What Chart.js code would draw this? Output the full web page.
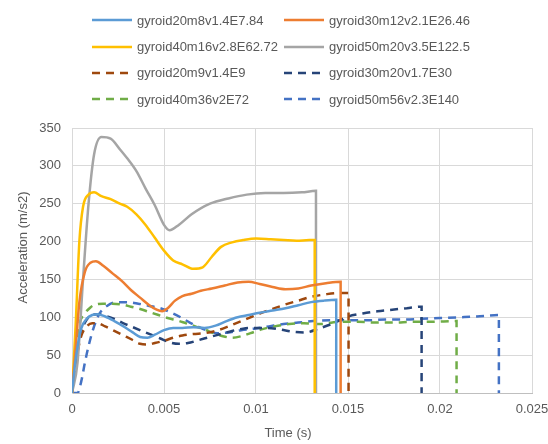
<!DOCTYPE html>
<html>
<head>
<meta charset="utf-8">
<script src="https://cdn.jsdelivr.net/npm/chart.js@4"></script>
<style>
  body { margin: 0; background: #fff; }
  #wrap { position: relative; width: 548px; height: 444px; }
  .leg { position: absolute; height: 20px; display: flex; align-items: center;
         font-family: "Liberation Sans", Arial, sans-serif; font-size: 13px; color: #595959; white-space: nowrap; }
  .leg span { margin-left: 5px; }
</style>
</head>
<body>
<div id="wrap">
  <canvas id="chart" width="548" height="444"></canvas>
</div>
<script>
// series data (time in s, acceleration in m/s2)
const names = [
  "gyroid20m8v1.4E7.84", "gyroid30m12v2.1E26.46",
  "gyroid40m16v2.8E62.72", "gyroid50m20v3.5E122.5",
  "gyroid20m9v1.4E9", "gyroid30m20v1.7E30",
  "gyroid40m36v2E72", "gyroid50m56v2.3E140"
];
const colors = ["#5B9BD5", "#ED7D31", "#FFC000", "#A5A5A5", "#9E480E", "#264478", "#70AD47", "#4472C4"];
const dashed = [false, false, false, false, true, true, true, true];

const t1 = [0, 0.0002, 0.0005, 0.0008, 0.0011, 0.0014, 0.0018, 0.0023, 0.0028, 0.0033, 0.0037, 0.0041, 0.0045, 0.005, 0.0055, 0.006, 0.0066, 0.0072, 0.0078, 0.0084, 0.009, 0.0096, 0.0102, 0.0109, 0.0116, 0.0123, 0.013, 0.0137, 0.01436, 0.01436];
const a1 = [0, 45, 85, 98, 103, 104, 101, 95, 88, 80, 74, 73, 77, 83, 86, 86, 87, 86, 89, 95, 100, 103, 106, 109, 112, 116, 120, 122, 123, 0];

const t2 = [0, 0.0002, 0.0004, 0.0007, 0.001, 0.0013, 0.0017, 0.0022, 0.0027, 0.0032, 0.0037, 0.0042, 0.0046, 0.0049, 0.0052, 0.0056, 0.006, 0.0065, 0.007, 0.0076, 0.0083, 0.009, 0.0096, 0.0102, 0.0109, 0.0116, 0.0123, 0.013, 0.0138, 0.0146, 0.0146];
const a2 = [0, 60, 120, 160, 172, 174, 168, 158, 148, 136, 126, 116, 110, 108, 112, 122, 128, 131, 135, 138, 142, 146, 147, 144, 140, 137, 138, 142, 145, 147, 0];

const t3 = [0, 0.0002, 0.0004, 0.0006, 0.0009, 0.0012, 0.0016, 0.0021, 0.0026, 0.003, 0.0035, 0.004, 0.0045, 0.005, 0.0055, 0.006, 0.0066, 0.0071, 0.0076, 0.0081, 0.0087, 0.0093, 0.01, 0.0108, 0.0115, 0.0122, 0.0129, 0.01319, 0.01319];
const a3 = [0, 90, 200, 246, 262, 265, 260, 256, 250, 246, 236, 222, 205, 188, 175, 170, 164, 166, 180, 193, 199, 202, 204, 203, 202, 201, 202, 202, 0];

const t4 = [0, 0.0003, 0.0006, 0.0009, 0.0012, 0.0016, 0.0021, 0.0026, 0.003, 0.0035, 0.004, 0.0045, 0.005, 0.0053, 0.0058, 0.0065, 0.0075, 0.0085, 0.0095, 0.0105, 0.0115, 0.0125, 0.01326, 0.01326];
const a4 = [0, 40, 150, 250, 315, 338, 336, 322, 310, 293, 270, 248, 222, 215, 222, 236, 250, 257, 262, 264, 264, 265, 267, 0];

const t5 = [0, 0.0002, 0.0005, 0.0008, 0.0011, 0.0014, 0.0018, 0.0023, 0.0028, 0.0033, 0.0037, 0.0041, 0.0045, 0.005, 0.0055, 0.006, 0.0066, 0.0072, 0.0078, 0.0084, 0.009, 0.0096, 0.0102, 0.0109, 0.0116, 0.0123, 0.013, 0.0137, 0.0144, 0.01503, 0.01503];
const a5 = [0, 40, 75, 88, 92, 92, 88, 82, 76, 70, 65, 64, 66, 69, 73, 76, 78, 79, 82, 87, 93, 99, 105, 111, 117, 122, 127, 130, 132, 132, 0];

const t6 = [0, 0.0002, 0.0005, 0.0008, 0.0011, 0.0014, 0.0018, 0.0023, 0.0028, 0.0033, 0.0038, 0.0043, 0.0048, 0.0053, 0.0058, 0.0063, 0.0069, 0.0075, 0.0081, 0.0087, 0.0093, 0.0099, 0.0106, 0.0113, 0.012, 0.0127, 0.0134, 0.0142, 0.015, 0.0158, 0.0166, 0.0174, 0.0182, 0.019, 0.019];
const a6 = [0, 40, 80, 97, 103, 104, 102, 98, 92, 87, 82, 77, 72, 67, 65, 66, 70, 74, 78, 82, 85, 86, 86, 84, 81, 80, 85, 92, 101, 105, 108, 110, 112, 114, 0];

const t7 = [0, 0.0002, 0.0004, 0.0007, 0.001, 0.0013, 0.0017, 0.0022, 0.0027, 0.0032, 0.0037, 0.0042, 0.0047, 0.0052, 0.0057, 0.0062, 0.0067, 0.0072, 0.0077, 0.0082, 0.0087, 0.0092, 0.0097, 0.0103, 0.011, 0.0118, 0.0126, 0.0135, 0.0145, 0.0155, 0.0165, 0.0175, 0.0185, 0.0195, 0.0209, 0.0209];
const a7 = [0, 50, 90, 105, 113, 117, 118, 118, 117, 114, 111, 107, 103, 99, 96, 92, 88, 84, 79, 75, 73, 75, 79, 84, 88, 91, 92, 91, 94, 94, 93, 93, 94, 94, 95, 0];

const t8 = [0, 0.0003, 0.0005, 0.0007, 0.0009, 0.0012, 0.0015, 0.0019, 0.0024, 0.003, 0.0036, 0.0042, 0.0048, 0.0054, 0.0059, 0.0064, 0.0069, 0.0074, 0.0079, 0.0085, 0.0092, 0.0099, 0.0107, 0.0115, 0.0123, 0.0131, 0.014, 0.015, 0.016, 0.017, 0.018, 0.019, 0.02, 0.021, 0.022, 0.0232, 0.0232];
const a8 = [0, 0, 15, 40, 62, 88, 105, 115, 120, 120, 118, 115, 112, 106, 100, 93, 87, 82, 79, 80, 83, 85, 88, 91, 93, 95, 96, 96, 96, 97, 97, 98, 99, 100, 101, 103, 0];

const times = [t1, t2, t3, t4, t5, t6, t7, t8];
const accels = [a1, a2, a3, a4, a5, a6, a7, a8];

const xTitle = "Time (s)";
const yTitle = "Acceleration (m/s2)";

const font = "'Liberation Sans', Arial, sans-serif";
const textColor = "#595959";

const datasets = names.map((name, i) => ({
  label: name,
  data: times[i].map((t, j) => ({ x: t, y: accels[i][j] })),
  borderColor: colors[i],
  backgroundColor: colors[i],
  borderWidth: 2.5,
  borderDash: dashed[i] ? [8, 6] : [],
  pointRadius: 0,
  showLine: true,
  cubicInterpolationMode: "monotone",
  fill: false
}));

// legend, 2 columns
const wrap = document.getElementById("wrap");
const rowY = [20, 46.5, 72.5, 99];
const colX = [92, 284];
names.forEach((name, i) => {
  const div = document.createElement("div");
  div.className = "leg";
  div.style.left = colX[i % 2] + "px";
  div.style.top = (rowY[Math.floor(i / 2)] - 10) + "px";
  const dash = dashed[i] ? 'stroke-dasharray="8,6"' : "";
  div.innerHTML = `<svg width="40" height="6"><line x1="0" y1="3" x2="40" y2="3" stroke="${colors[i]}" stroke-width="2.5" ${dash}/></svg><span>${name}</span>`;
  wrap.appendChild(div);
});

// axis titles sit a little off-centre in the original, so draw them here
const axisTitles = {
  id: "axisTitles",
  afterDraw(chart) {
    const ctx = chart.ctx;
    const area = chart.chartArea;
    ctx.save();
    ctx.fillStyle = textColor;
    ctx.font = "13px " + font;
    ctx.textAlign = "center";
    ctx.textBaseline = "middle";
    ctx.fillText(xTitle, (area.left + area.right) / 2 - 14, chart.height - 11);
    ctx.translate(23, (area.top + area.bottom) / 2 - 13);
    ctx.rotate(-Math.PI / 2);
    ctx.fillText(yTitle, 0, 0);
    ctx.restore();
  }
};

new Chart(document.getElementById("chart"), {
  type: "scatter",
  data: { datasets: datasets },
  plugins: [axisTitles],
  options: {
    responsive: false,
    animation: false,
    layout: { padding: { top: 128, right: 16, left: 0, bottom: 0 } },
    plugins: { legend: { display: false }, tooltip: { enabled: false } },
    scales: {
      x: {
        type: "linear",
        min: 0,
        max: 0.025,
        ticks: { stepSize: 0.005, color: textColor, font: { family: font, size: 13 }, padding: 9,
                 callback: v => String(Math.round(v * 1000) / 1000) },
        grid: { color: "#D9D9D9", drawTicks: false },
        border: { color: "#BFBFBF" },
        afterFit: s => { s.height = 51; s.paddingLeft = 0; s.paddingRight = 0; }
      },
      y: {
        min: 0,
        max: 350,
        ticks: { stepSize: 50, color: textColor, font: { family: font, size: 13 }, padding: 11 },
        grid: { color: "#D9D9D9", drawTicks: false },
        border: { color: "#D9D9D9" },
        afterFit: s => { s.width = 72; s.paddingTop = 0; s.paddingBottom = 0; }
      }
    }
  }
});
</script>
</body>
</html>
